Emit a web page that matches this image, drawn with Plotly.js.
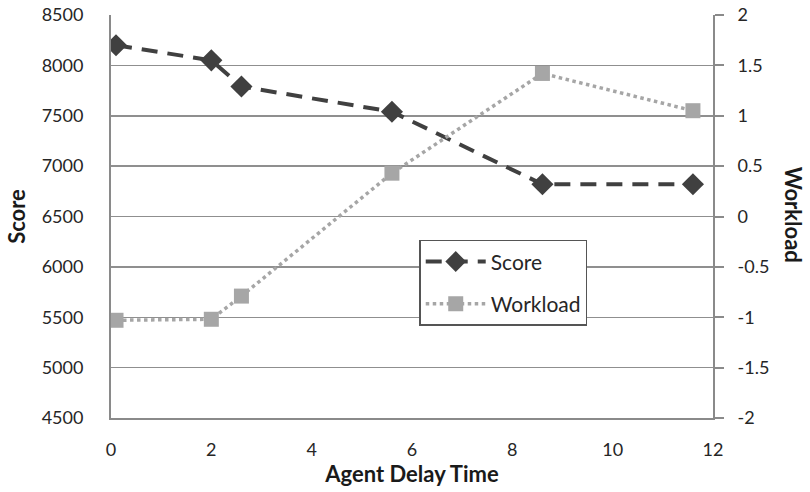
<!DOCTYPE html>
<html><head><meta charset="utf-8">
<script src="https://cdn.plot.ly/plotly-3.0.1.min.js"></script>
<style>body{margin:0;background:#fff}#c{width:810px;height:492px}</style>
</head><body><div id="c"></div>
<script>
const delay = [0.1, 2, 2.6, 5.6, 8.6, 11.6];
const score = [8200, 8050, 7790, 7540, 6820, 6820];
const workload = [-1.03, -1.02, -0.79, 0.43, 1.42, 1.05];
const scoreTicks = [4500, 5000, 5500, 6000, 6500, 7000, 7500, 8000, 8500];
const workloadTicks = [-2, -1.5, -1, -0.5, 0, 0.5, 1, 1.5, 2];
const xTicks = [0, 2, 4, 6, 8, 10, 12];

const fam = 'Lato, "Liberation Sans", sans-serif';
const font = {family: fam, color: '#262626', size: 18};
const titleFont = {size: 22, family: fam, color: '#1a1a1a'};
const axisCol = '#8a8a8a';

const traces = [
  {x: delay, y: score, name: 'Score', type: 'scatter', mode: 'lines+markers', legendgroup: 'a',
   line: {color: '#404040', width: 4, dash: '16px,10px'},
   marker: {symbol: 'diamond', size: 17, color: '#404040'}},
  {x: delay, y: workload, name: 'Workload', type: 'scatter', mode: 'lines+markers', yaxis: 'y2', legendgroup: 'b',
   line: {color: '#a6a6a6', width: 3.5, dash: 'dot'},
   marker: {symbol: 'square', size: 15, color: '#a6a6a6'}}
];

const layout = {
  width: 810, height: 492,
  margin: {l: 111, r: 97, t: 15, b: 74},
  paper_bgcolor: '#fff', plot_bgcolor: '#fff',
  font: font,
  showlegend: true,
  legend: {x: 0.512, y: 0.442, xanchor: 'left', yanchor: 'top', bgcolor: '#fff',
           bordercolor: '#555', borderwidth: 1.5, font: {size: 21, color: '#262626', family: fam},
           itemwidth: 60, tracegroupgap: 12},
  xaxis: {range: [0, 12], tickvals: xTicks, ticktext: xTicks.map(String), showgrid: false,
          showline: true, linecolor: axisCol, linewidth: 2, zeroline: false, ticks: '',
          ticklabelstandoff: 14,
          title: {text: '<b>Agent Delay Time</b>', font: titleFont, standoff: 6}},
  yaxis: {range: [4500, 8500], tickvals: scoreTicks, ticktext: scoreTicks.map(String),
          showgrid: true, gridcolor: '#8f8f8f', gridwidth: 1.5, showline: true, linecolor: axisCol, linewidth: 2,
          zeroline: false, ticks: '', ticklabelstandoff: 22,
          title: {text: '<b>Score</b>', font: titleFont, standoff: 10}},
  yaxis2: {range: [-2, 2], tickvals: workloadTicks, ticktext: workloadTicks.map(String), overlaying: 'y', side: 'right',
           showgrid: false, showline: true, linecolor: axisCol, linewidth: 2, zeroline: false,
           ticks: 'outside', ticklen: 9, tickcolor: axisCol, tickwidth: 2, ticklabelstandoff: 10},
  annotations: [
    {text: '<b>Workload</b>', xref: 'paper', yref: 'paper', x: 1.16, y: 0.505, showarrow: false,
     textangle: 90, font: titleFont}
  ]
};
Plotly.newPlot('c', traces, layout, {displayModeBar: false, staticPlot: true});
</script></body></html>
